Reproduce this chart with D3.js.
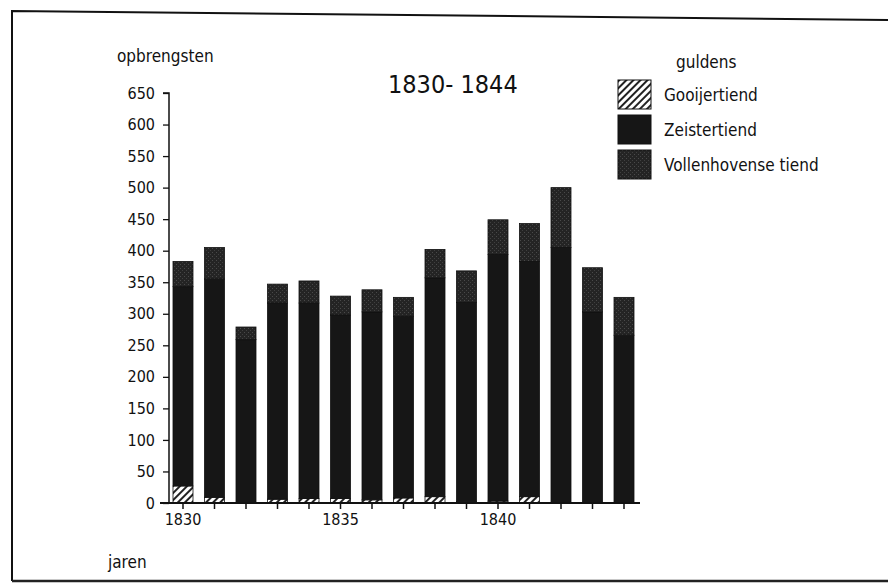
<!DOCTYPE html>
<html>
<head>
<meta charset="utf-8">
<script src="https://cdn.jsdelivr.net/npm/d3@7"></script>
<style>
  body { margin: 0; background: #fff; }
  svg text { font-family: "DejaVu Sans Condensed", "Liberation Sans Narrow", sans-serif; fill: #111; }
</style>
</head>
<body>
<div id="container"></div>
<script>
// data (guldens)
const years = ['1830','1831','1832','1833','1834','1835','1836','1837','1838','1839','1840','1841','1842','1843','1844'];
const gooijertiend = [27, 9, 0, 6, 7, 7, 5, 8, 10, 2, 3, 10, 0, 0, 0];
const zeistertiend = [316, 346, 259, 311, 310, 291, 298, 288, 347, 316, 391, 373, 405, 303, 266];
const vollenhovense = [40, 50, 20, 30, 35, 30, 35, 30, 45, 50, 55, 60, 95, 70, 60];
const seriesNames = ['Gooijertiend', 'Zeistertiend', 'Vollenhovense tiend'];
const yTicks = [0, 50, 100, 150, 200, 250, 300, 350, 400, 450, 500, 550, 600, 650];
const xLabels = ['1830', '1835', '1840'];

const width = 888, height = 586;
const svg = d3.select('#container').append('svg')
  .attr('width', width).attr('height', height);

// patterns
const defs = svg.append('defs');
const hatch = defs.append('pattern').attr('id', 'hatch')
  .attr('patternUnits', 'userSpaceOnUse').attr('width', 5).attr('height', 5)
  .attr('patternTransform', 'rotate(45)');
hatch.append('rect').attr('width', 5).attr('height', 5).attr('fill', '#fff');
hatch.append('rect').attr('width', 2).attr('height', 5).attr('fill', '#222');

const stip = defs.append('pattern').attr('id', 'stip')
  .attr('patternUnits', 'userSpaceOnUse').attr('width', 4).attr('height', 4);
stip.append('rect').attr('width', 4).attr('height', 4).attr('fill', '#242424');
stip.append('rect').attr('x', 0).attr('y', 0).attr('width', 1).attr('height', 1).attr('fill', '#4a4a4a');
stip.append('rect').attr('x', 2).attr('y', 2).attr('width', 1).attr('height', 1).attr('fill', '#404040');

const fills = ['url(#hatch)', '#161616', 'url(#stip)'];

// frame
svg.append('path')
  .attr('d', 'M12,581 L12,11 L888,20')
  .attr('fill', 'none').attr('stroke', '#111').attr('stroke-width', 2);
svg.append('line')
  .attr('x1', 12).attr('x2', 888).attr('y1', 581).attr('y2', 581)
  .attr('stroke', '#222').attr('stroke-width', 2.5);

const xScale = d3.scaleBand().domain(years).range([161.5, 645.5]).padding(0.365);
const yScale = d3.scaleLinear().domain([0, 650]).range([503, 93]);

// y axis
const yAxis = d3.axisLeft(yScale).tickValues(yTicks).tickSize(6).tickPadding(8).tickFormat(d3.format('d'));
const gy = svg.append('g').attr('transform', 'translate(169,0)').call(yAxis);
gy.select('.domain').attr('stroke', '#111').attr('stroke-width', 1.5).attr('d', `M-6,${yScale(650)}H0V${yScale(0)}`);
gy.selectAll('.tick line').attr('stroke', '#111').attr('stroke-width', 1.3);
gy.selectAll('.tick text').attr('font-size', 16).style('font-family', '"DejaVu Sans Condensed", sans-serif');

// stacked bars
const table = years.map((y, i) => ({ year: y, g: gooijertiend[i], z: zeistertiend[i], v: vollenhovense[i] }));
const stack = d3.stack().keys(['g', 'z', 'v'])(table);

svg.append('g').selectAll('g').data(stack).join('g')
  .attr('fill', (d, i) => fills[i])
  .selectAll('rect').data(d => d.filter(s => s[1] > s[0])).join('rect')
  .attr('x', d => xScale(d.data.year))
  .attr('width', xScale.bandwidth())
  .attr('y', d => yScale(d[1]))
  .attr('height', d => yScale(d[0]) - yScale(d[1]))
  .attr('stroke', '#111').attr('stroke-width', 0.8);

// x axis
const xAxis = d3.axisBottom(xScale).tickSize(6).tickPadding(5)
  .tickFormat(d => xLabels.includes(d) ? d : '');
const gx = svg.append('g').attr('transform', 'translate(0,503)').call(xAxis);
gx.select('.domain').attr('stroke', '#111').attr('stroke-width', 2).attr('d', 'M160,0H640');
gx.selectAll('.tick line').attr('stroke', '#111').attr('stroke-width', 1.5);
gx.selectAll('.tick text').attr('font-size', 16).style('font-family', '"DejaVu Sans Condensed", sans-serif');

// titles
svg.append('text').attr('x', 117).attr('y', 62).attr('font-size', 17).text('opbrengsten');
svg.append('text').attr('x', 388).attr('y', 93).attr('font-size', 25).text('1830- 1844');
svg.append('text').attr('x', 108).attr('y', 568).attr('font-size', 17).text('jaren');
svg.append('text').attr('x', 676).attr('y', 68).attr('font-size', 17).text('guldens');

// legend
const legend = svg.append('g').attr('transform', 'translate(618,80)');
const li = legend.selectAll('g').data(seriesNames).join('g')
  .attr('transform', (d, i) => `translate(0,${i * 35})`);
li.append('rect').attr('width', 33).attr('height', 29)
  .attr('fill', (d, i) => fills[i]).attr('stroke', '#111').attr('stroke-width', 1);
li.append('text').attr('x', 46).attr('y', 21).attr('font-size', 17).text(d => d);
</script>
</body>
</html>
